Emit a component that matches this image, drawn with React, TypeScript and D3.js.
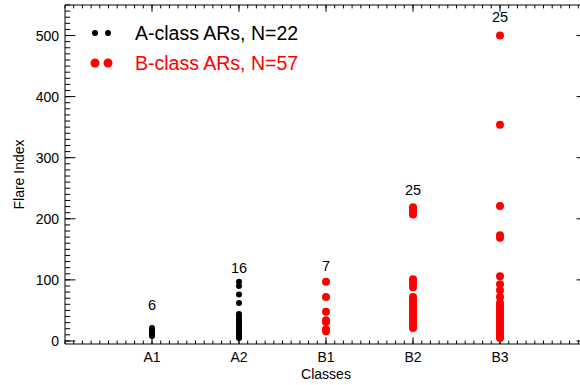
import React from "react";
import * as d3 from "d3";

const width = 580;
const height = 385;
const margin = { left: 65, right: -7, top: 5, bottom: 41 };

// classes on the x axis, at positions 1..5
const classes = ["A1", "A2", "B1", "B2", "B3"];

// flare index of each active region, per class
const flareA1 = [21, 18, 16, 13, 11, 8];
const flareA2 = [97, 90, 76, 62, 44, 40, 36, 32, 28, 25, 21, 18, 15, 11, 8, 5];
const flareB1 = [97, 72, 48, 34, 31, 19, 16];
const flareB2 = [219, 216, 212, 207, 101, 98, 94, 88, 72, 68, 65, 61, 58, 55, 51, 48, 45, 42, 39, 36, 33, 30, 27, 24, 21];
const flareB3 = [500, 354, 221, 173, 169, 106, 93, 83, 72, 62, 58, 54, 50, 46, 42, 38, 35, 31, 27, 23, 19, 15, 11, 8, 5];

// where the count above each column sits (flare index units)
const countLabelAt = [51, 111, 114, 239, 522];

const yTicks = [0, 100, 200, 300, 400, 500];
const legendA = "A-class ARs, N=22";
const legendB = "B-class ARs, N=57";

const font = "'Liberation Sans', Arial, Helvetica, sans-serif";

export default function App() {
  const x = d3.scaleLinear().domain([0, 6]).range([margin.left, width - margin.right]);
  const y = d3.scaleLinear().domain([-5, 550]).range([height - margin.bottom, margin.top]);

  const columns = [flareA1, flareA2, flareB1, flareB2, flareB3];
  const colorOf = (i: number) => (i < 2 ? "#000000" : "#ff0000");
  const radiusOf = (i: number) => (i < 2 ? 3 : 4);

  const x0 = x.range()[0];
  const x1 = x.range()[1];
  const yb = y.range()[0];
  const yt = y.range()[1];

  const xMinor = d3.range(0, 61).map((d) => d / 10);
  const xMajor = d3.range(1, 6);
  const yMinor = d3.range(0, 56).map((d) => d * 10);

  const xMajLen = 6.8, xMinLen = 3.4, yMajLen = 10.4, yMinLen = 5.2;

  return (
    <svg width={width} height={height} style={{ position: "absolute", left: 0, top: 0 }} fontFamily={font}>
      <rect x={0} y={0} width={width} height={height} fill="#fff" />
      {/* frame */}
      <g stroke="#000" strokeWidth={1} fill="none">
        <line x1={x0} x2={x1} y1={yb} y2={yb} />
        <line x1={x0} x2={x1} y1={yt} y2={yt} />
        <line x1={x0} x2={x0} y1={yt} y2={yb} />
        <line x1={x1} x2={x1} y1={yt} y2={yb} />
        {/* x ticks, bottom and top */}
        {xMinor.map((d, i) => (
          <g key={"xm" + i}>
            <line x1={x(d)} x2={x(d)} y1={yb} y2={yb - xMinLen} />
            <line x1={x(d)} x2={x(d)} y1={yt} y2={yt + xMinLen} />
          </g>
        ))}
        {xMajor.map((d) => (
          <g key={"xM" + d}>
            <line x1={x(d)} x2={x(d)} y1={yb} y2={yb - xMajLen} />
            <line x1={x(d)} x2={x(d)} y1={yt} y2={yt + xMajLen} />
          </g>
        ))}
        {/* y ticks, left and right */}
        {yMinor.map((d) => (
          <g key={"ym" + d}>
            <line x1={x0} x2={x0 + yMinLen} y1={y(d)} y2={y(d)} />
            <line x1={x1} x2={x1 - yMinLen} y1={y(d)} y2={y(d)} />
          </g>
        ))}
        {yTicks.map((d) => (
          <g key={"yM" + d}>
            <line x1={x0} x2={x0 + yMajLen} y1={y(d)} y2={y(d)} />
            <line x1={x1} x2={x1 - yMajLen} y1={y(d)} y2={y(d)} />
          </g>
        ))}
      </g>

      {/* tick labels */}
      <g fontSize={14} fill="#000">
        {yTicks.map((d) => (
          <text key={"yl" + d} x={x0 - 6} y={y(d)} dy="0.36em" textAnchor="end">
            {d}
          </text>
        ))}
        {classes.map((c, i) => (
          <text key={c} x={x(i + 1)} y={362} textAnchor="middle">
            {c}
          </text>
        ))}
        <text x={x(3)} y={379} textAnchor="middle">Classes</text>
        <text transform={`translate(24, ${(yt + yb) / 2}) rotate(-90)`} textAnchor="middle">
          Flare Index
        </text>
      </g>

      {/* points */}
      {columns.map((vals, i) => (
        <g key={"col" + i} fill={colorOf(i)}>
          {vals.map((v, j) => (
            <circle key={j} cx={x(i + 1)} cy={y(v)} r={radiusOf(i)} />
          ))}
        </g>
      ))}

      {/* counts */}
      <g fontSize={14.5} fill="#000" textAnchor="middle">
        {columns.map((vals, i) => (
          <text key={"n" + i} x={x(i + 1)} y={y(countLabelAt[i])}>
            {vals.length}
          </text>
        ))}
      </g>

      {/* legend */}
      <g>
        <circle cx={95} cy={33} r={3} fill="#000" />
        <circle cx={108} cy={33} r={3} fill="#000" />
        <text x={135} y={33} dy="0.36em" fontSize={19.5} fill="#000">{legendA}</text>
        <circle cx={95} cy={63} r={4.5} fill="#ff0000" />
        <circle cx={108} cy={63} r={4.5} fill="#ff0000" />
        <text x={135} y={63} dy="0.36em" fontSize={19.5} fill="#ff0000">{legendB}</text>
      </g>
    </svg>
  );
}
